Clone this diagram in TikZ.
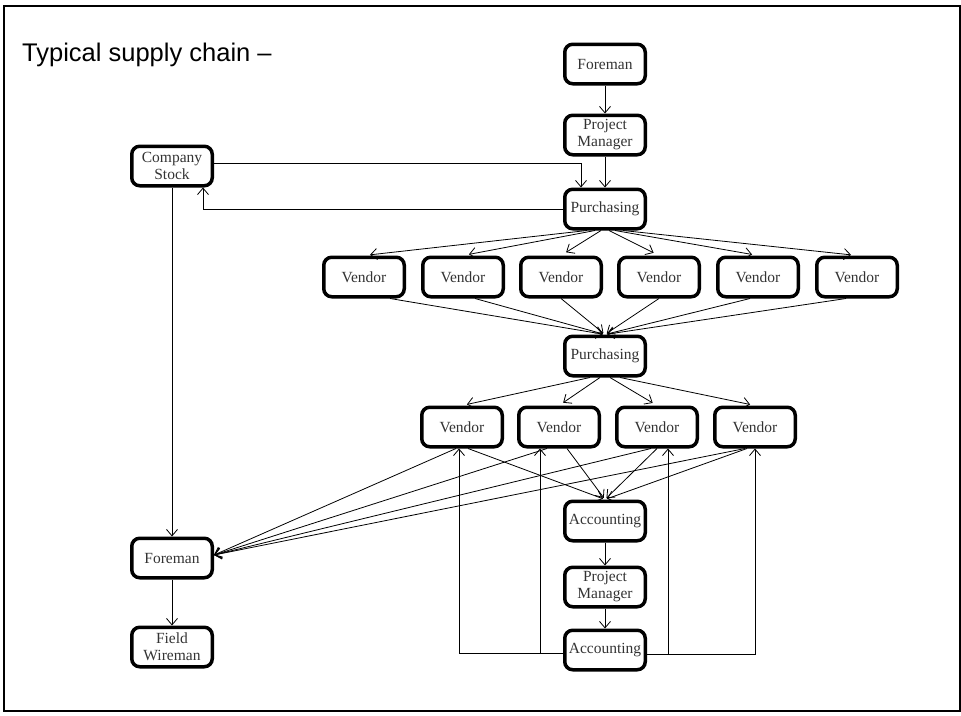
\documentclass[tikz,border=0pt]{standalone}
\usepackage{fontspec}
\setmainfont{Liberation Serif}
\newfontfamily\titlefont{Liberation Sans}
\usetikzlibrary{arrows.meta,calc}
\begin{document}
\begin{tikzpicture}[x=1pt,y=-1pt,
 box/.style={draw, line width=3.5pt, rounded corners=8pt, minimum width=80.5pt, minimum height=39.5pt, inner sep=1pt, align=center, font=\fontsize{15.5}{17}\selectfont, text=black!80},
 conn/.style={line width=0.8pt, -{Straight Barb[length=6.5pt,width=11pt]}},
]
\useasboundingbox (0,0) rectangle (961,715);
\draw[line width=2pt] (4,6) rectangle (960,711);
\node[font=\titlefont\fontsize{25.5}{30}\selectfont, anchor=base west, inner sep=0pt] (title) at (22,61) {Typical supply chain –};
\node[box] (fT) at (605,64) {Foreman};
\node[box] (pmT) at (605,135) {Project\\Manager};
\node[box] (p1) at (605,209) {Purchasing};
\node[box] (stock) at (172,166) {Company\\Stock};
\foreach \n/\x in {v1/364,v2/463,v3/561,v4/659,v5/758,v6/857}
  \node[box] (\n) at (\x,277) {Vendor};
\node[box] (p2) at (605,356) {Purchasing};
\foreach \n/\x in {w1/462,w2/559,w3/657,w4/755}
  \node[box] (\n) at (\x,427) {Vendor};
\node[box] (a1) at (605,521) {Accounting};
\node[box] (pm2) at (605,587) {Project\\Manager};
\node[box] (a2) at (605,650) {Accounting};
\node[box] (fL) at (172,558) {Foreman};
\node[box] (fw) at (172,647) {Field\\Wireman};
% top chain
\draw[conn] (fT) -- (pmT);
\draw[conn] (pmT) -- (p1);
\draw[conn] ($(stock.east)+(0,-3)$) -| ($(p1.north)+(-24,0)$);
\draw[conn] (p1.west) -| ($(stock.south)+(31,0)$);
\draw[conn] (stock) -- (fL);
\draw[conn] (fL) -- (fw);
% purchasing 1 to vendors
\foreach \v/\o in {v1/-18,v2/-10,v3/-4,v4/4,v5/10,v6/18}
  \draw[conn, shorten >=6pt] ($(p1.south)+(\o,0)$) -- (\v.north);
% vendors to purchasing 2
\foreach \v/\o in {v1/26,v2/12,v3/0,v4/0,v5/-8,v6/-11}
  \draw[conn, shorten >=2pt] ($(\v.south)+(\o,0)$) -- (p2.north);
% purchasing 2 to vendors
\foreach \w/\o in {w1/-15,w2/-5,w3/5,w4/15}
  \draw[conn, shorten >=5pt] ($(p2.south)+(\o,0)$) -- (\w.north);
% vendors to foreman
\foreach \w/\o in {w1/-6,w2/-12,w3/-6,w4/-10}
  \draw[conn] ($(\w.south)+(\o,0)$) -- ($(fL.east)+(0,-3)$);
% vendors to accounting
\foreach \w/\o in {w1/6,w2/8,w3/0,w4/-8}
  \draw[conn, shorten >=2pt] ($(\w.south)+(\o,0)$) -- (a1.north);
% accounting chain
\draw[conn] (a1) -- (pm2);
\draw[conn] (pm2) -- (a2);
\draw[conn] ($(a2.west)+(0,3)$) -| ($(w1.south)+(-3,0)$);
\draw[conn] ($(a2.west)+(0,3)$) -| ($(w2.south)+(-19,0)$);
\draw[conn] ($(a2.east)+(0,4)$) -| ($(w3.south)+(11,0)$);
\draw[conn] ($(a2.east)+(0,4)$) -| (w4.south);
\end{tikzpicture}
\end{document}
